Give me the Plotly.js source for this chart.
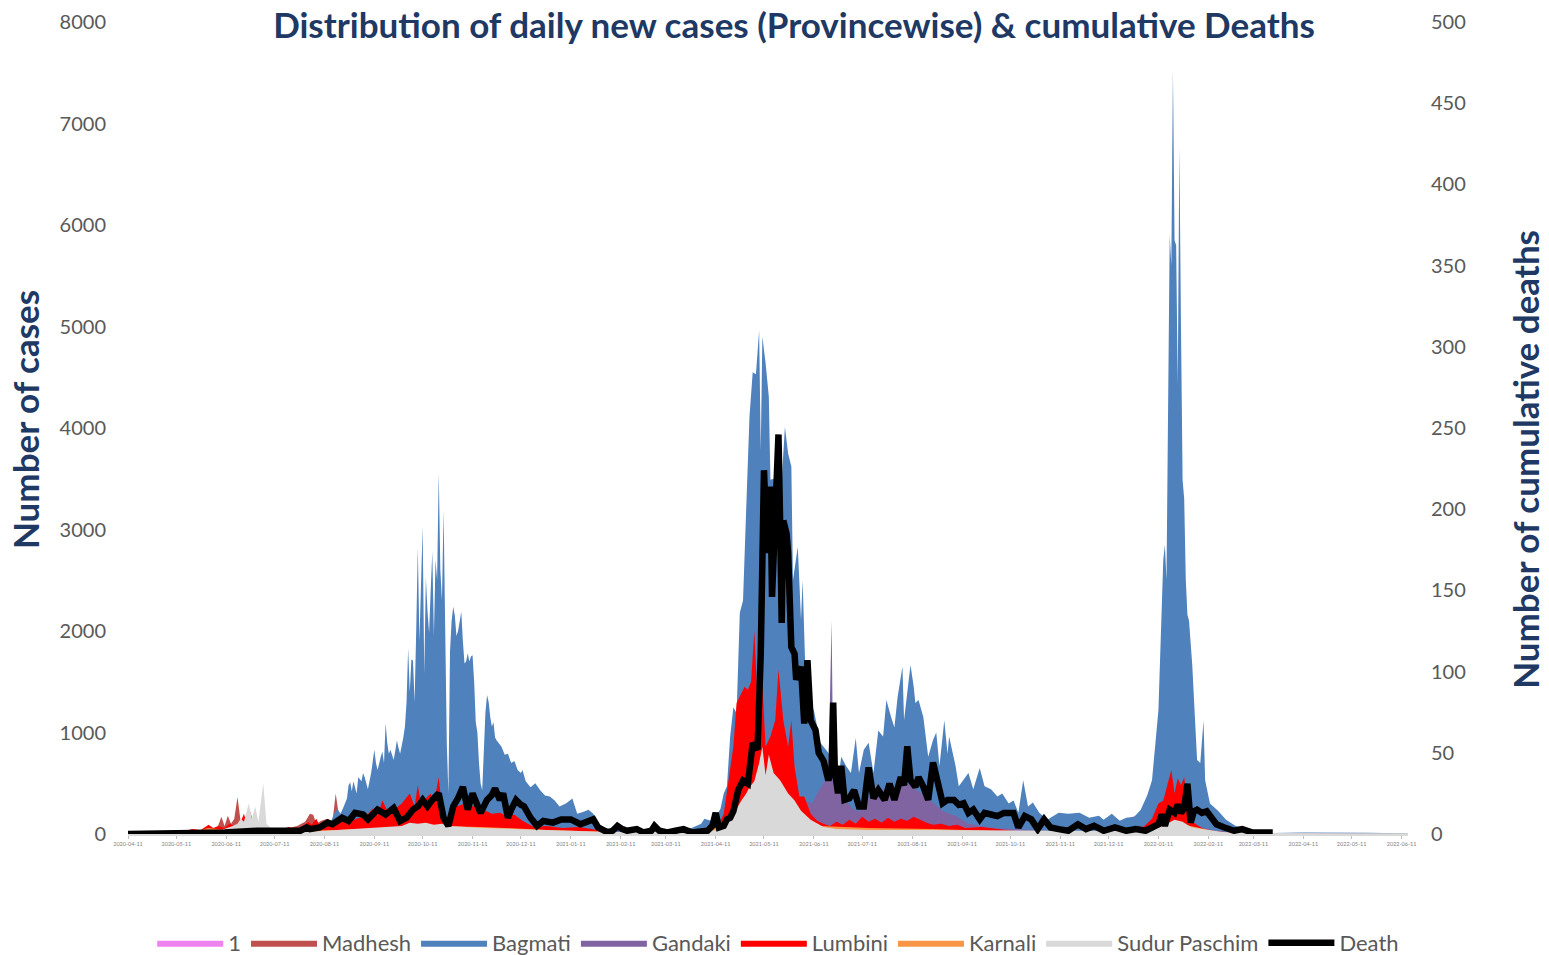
<!DOCTYPE html>
<html>
<head>
<meta charset="utf-8">
<script src="https://cdn.plot.ly/plotly-3.0.1.min.js"></script>
<style>
  html, body { margin: 0; padding: 0; background: #ffffff; }
  #chart { width: 1549px; height: 955px; }
</style>
</head>
<body>
<div id="chart"></div>
<script>
// ---- Data (day offsets from the start date) ----
const startDate = '2020-04-11';

const tickDates = ['2020-04-11','2020-05-11','2020-06-11','2020-07-11','2020-08-11','2020-09-11','2020-10-11','2020-11-11','2020-12-11',
  '2021-01-11','2021-02-11','2021-03-11','2021-04-11','2021-05-11','2021-06-11','2021-07-11','2021-08-11','2021-09-11',
  '2021-10-11','2021-11-11','2021-12-11','2022-01-11','2022-02-11','2022-03-11','2022-04-11','2022-05-11','2022-06-11'];

const seriesNames = ['1','Madhesh','Bagmati','Gandaki','Lumbini','Karnali','Sudur Paschim','Death'];

const p1Days = [0,40,100,150,200,250,300,340,365,372,395,420,460,520,600,645,655,665,690,796];
const p1Vals = [0,5,15,100,200,60,10,10,20,150,500,200,100,50,20,300,400,80,5,0];

const madheshDays = [0,30,35,40,45,50,55,58,60,62,64,66,68,70,72,75,80,85,90,95,100,105,110,113,115,117,120,124,127,129,131,135,140,150,160,170,180,190,200,210,220,230,240,260,280,300,340,365,375,385,395,405,415,425,440,470,500,540,600,640,650,660,670,690,720,796];
const madheshVals = [0,0,10,15,20,30,40,170,80,180,100,150,365,120,150,100,80,50,40,50,60,80,120,200,190,100,130,150,120,400,180,200,250,300,350,350,350,350,300,300,300,250,200,120,60,30,20,50,200,600,900,800,500,300,150,120,100,60,40,150,200,150,60,10,3,2];

const bagmatiDays = [0,20,40,60,75,90,100,110,116,120,123,126,128,130,132,134,136,137,138,139,140,142,143,145,146,147,149,151,153,154,155,157,158,159,160,161,162,163,165,166,167,168,169,171,172,173,174,175,176,177,178,179,180,181,182,183,184,185,186,187,188,189,190,191,192,193,194,195,196,197,198,199,200,201,202,203,204,205,206,207,208,209,210,211,212,213,214,215,216,217,218,219,220,221,222,223,224,225,226,227,228,229,231,232,234,236,238,240,242,244,245,247,250,253,256,259,262,265,268,272,276,279,283,286,289,292,296,300,310,320,330,340,350,356,358,362,365,368,370,372,374,376,378,380,382,384,386,388,390,392,393,394,396,398,399,401,403,405,408,410,412,413,416,418,419,421,423,426,430,435,438,441,443,446,449,452,454,457,460,463,466,469,471,474,476,478,481,482,484,486,488,489,491,494,497,500,502,504,507,509,510,512,514,516,519,522,525,529,532,536,540,543,547,550,553,556,559,562,566,571,578,584,591,597,603,606,611,616,620,625,629,633,636,640,643,644,645,646,647,648,649,650,651,652,653,654,655,656,657,658,659,661,663,664,666,668,669,672,677,682,688,695,700,710,730,750,770,790,796];
const bagmatiVals = [0,2,5,10,15,20,30,50,70,100,140,120,200,250,200,270,350,480,510,420,520,400,560,520,600,560,440,600,830,700,630,760,810,700,1090,900,790,830,730,820,920,850,790,950,1060,1300,1830,1400,1720,1710,1300,2000,2820,1900,2500,3030,1580,2530,2200,1980,2400,2780,1950,2700,2500,3560,2600,2300,3190,2000,900,400,1800,2100,2240,2150,1950,2000,2100,2190,1900,1680,1700,1780,1700,1750,1760,1500,1100,1000,700,500,430,900,1200,1370,1300,1150,1060,1100,950,920,880,860,780,790,700,720,630,600,630,520,460,500,430,380,370,330,270,300,350,200,220,240,200,100,60,50,40,50,45,55,60,100,150,130,170,250,400,470,960,1250,1190,2180,2300,3220,4110,4550,4530,4960,3780,4900,4640,4310,3490,3500,3300,3220,4010,3750,3620,2500,2830,2110,2500,1450,1290,1220,900,800,700,530,760,670,600,945,600,830,900,600,1020,960,1320,1150,1050,1350,1650,1120,1380,1665,1450,1290,1320,1150,760,925,1000,670,1120,790,960,830,670,470,530,600,440,650,470,440,370,400,300,330,210,530,270,310,210,140,210,200,210,160,180,140,200,130,160,170,240,380,530,1220,2700,2850,2500,4180,5900,5600,7530,5850,5800,4420,6770,5000,3490,3300,2500,2160,2100,1665,1000,730,700,1120,530,300,230,140,80,50,20,10,15,10,12,8,5];

const gandakiDays = [0,40,60,100,130,160,190,220,260,300,360,375,385,395,405,415,420,425,428,432,435,437,438,440,442,446,450,454,458,462,466,470,474,478,482,486,490,494,498,502,506,510,514,518,522,530,540,560,600,640,650,660,680,700,796];
const gandakiVals = [0,0,10,20,40,80,120,100,40,10,20,200,500,700,600,350,330,300,400,500,600,2100,600,660,470,330,250,220,300,400,460,430,470,460,520,480,430,390,330,280,230,200,180,140,100,80,60,40,20,100,250,100,10,2,0];

const lumbiniDays = [0,28,31,35,40,45,48,50,53,56,60,63,66,70,72,74,76,78,82,86,92,96,100,104,108,112,114,117,119,122,126,130,133,138,142,148,152,155,158,162,166,170,175,178,180,182,185,188,190,193,195,198,200,203,206,209,212,215,217,219,222,226,231,235,240,245,252,260,270,280,288,295,305,320,340,355,362,366,370,373,376,378,380,383,385,387,389,391,393,396,399,402,404,407,410,412,414,417,420,424,428,432,436,440,444,448,452,456,460,464,468,472,476,480,484,488,492,496,500,505,510,515,520,530,540,550,560,580,600,620,630,636,640,643,646,648,650,652,654,656,658,660,662,665,668,675,685,700,720,796];
const lumbiniVals = [0,0,20,30,50,40,70,90,60,80,60,100,80,120,200,90,220,100,60,40,30,50,70,40,60,120,90,150,80,60,100,120,160,130,150,180,250,180,330,200,250,300,400,270,480,300,350,400,300,560,250,150,200,270,280,300,260,280,200,250,230,200,210,180,190,130,70,80,60,70,50,30,20,15,15,30,50,60,200,530,860,1290,1350,1450,1420,1500,2000,1290,1780,860,960,1120,1620,1120,860,1120,660,370,370,200,130,100,80,120,90,140,100,170,120,150,110,160,120,150,130,170,140,110,90,100,80,90,60,70,50,30,25,20,20,25,60,150,300,330,500,630,400,550,480,560,300,200,110,80,50,30,15,5,2,1];

const karnaliDays = [0,30,35,45,50,55,60,70,80,100,130,160,190,220,260,300,360,370,380,390,400,410,420,430,460,500,540,600,640,650,660,680,700,796];
const karnaliVals = [0,0,20,40,60,50,40,50,30,30,40,60,80,70,40,20,20,120,200,350,400,300,150,80,60,50,30,20,60,120,80,10,2,0];

const sudurDays = [0,30,40,50,58,62,65,68,70,72,75,77,79,81,84,86,90,100,110,120,130,140,150,160,170,175,180,185,190,195,200,210,220,240,260,280,300,330,360,366,370,374,378,381,384,386,389,392,394,396,398,401,405,410,414,418,424,432,440,460,500,540,580,620,640,645,650,655,660,667,680,700,720,760,796];
const sudurVals = [0,0,10,20,40,60,80,100,150,120,300,150,270,120,500,100,40,30,20,30,40,50,60,70,80,110,100,110,90,100,80,70,60,50,40,30,20,20,25,40,100,140,250,330,400,460,520,700,860,580,780,600,530,400,330,230,140,70,50,40,40,35,30,30,60,100,140,120,70,50,20,10,8,8,8];

const deathDays = [0,30,40,60,80,100,107,111,113,119,124,127,133,137,141,146,149,152,155,160,165,169,173,177,180,183,186,189,193,196,199,202,205,208,211,214,217,219,223,226,228,231,233,236,238,241,244,246,250,254,258,264,269,275,281,285,289,292,295,298,301,304,307,310,316,320,325,327,330,335,340,345,350,355,360,363,365,367,370,372,374,376,379,382,385,388,391,393,395,397,399,400,402,404,405,406,407,409,410,412,414,415,418,420,422,424,427,429,432,435,437,438,439,441,443,445,448,451,454,457,460,463,466,470,473,476,480,482,484,486,489,491,494,497,500,503,506,509,513,516,519,522,525,529,532,536,540,544,550,553,557,561,565,569,573,578,584,590,595,600,606,613,620,626,632,636,640,642,644,647,650,652,654,656,658,660,662,664,667,670,673,676,681,687,692,698,711];
const deathVals = [0,0,1,1,2,2,2,4,3,4,7,6,10,8,13,12,9,12,15,12,16,8,10,15,17,21,17,21,25,10,5,17,22,29,15,25,18,13,21,24,28,21,25,10,15,21,18,17,10,5,8,7,9,9,6,7,9,4,2,1,2,5,3,2,3,1,2,5,2,1,2,3,1,2,2,5,13,4,5,9,10,14,27,33,31,56,52,111,224,173,214,146,193,246,193,130,193,185,173,115,111,95,103,68,107,70,64,50,45,33,40,81,39,25,42,21,22,27,17,17,41,22,27,21,31,21,35,30,54,33,29,35,29,21,44,29,19,21,21,18,19,13,15,9,13,12,11,13,13,4,11,9,3,9,4,3,2,6,3,5,2,4,2,3,2,4,6,12,5,15,13,18,13,16,31,7,14,15,13,14,10,6,4,2,3,1,1];

// ---- Helpers ----
const baseMs = Date.UTC(2020, 3, 11);
function toDates(days) {
  return days.map(d => new Date(baseMs + d * 86400000).toISOString().slice(0, 10));
}

const colors = ['#EE82EE', '#C0504D', '#4F81BD', '#8064A2', '#FF0000', '#F79646', '#D9D9D9', '#000000'];
const areaSeries = [
  [p1Days, p1Vals], [madheshDays, madheshVals], [bagmatiDays, bagmatiVals], [gandakiDays, gandakiVals],
  [lumbiniDays, lumbiniVals], [karnaliDays, karnaliVals], [sudurDays, sudurVals]
];

const traces = areaSeries.map((s, i) => ({
  type: 'scatter',
  mode: 'lines',
  name: seriesNames[i],
  x: toDates(s[0]),
  y: s[1],
  fill: 'tozeroy',
  fillcolor: colors[i],
  line: { width: 0, color: colors[i] },
  hoverinfo: 'skip',
  yaxis: 'y'
}));

traces.push({
  type: 'scatter',
  mode: 'lines',
  name: seriesNames[7],
  x: toDates(deathDays),
  y: deathVals,
  line: { width: 6.5, color: colors[7] },
  yaxis: 'y2',
  hoverinfo: 'skip'
});

const FONT = 'Lato, "Open Sans", sans-serif';
const NAVY = '#203864';

const layout = {
  width: 1549,
  height: 955,
  paper_bgcolor: '#ffffff',
  plot_bgcolor: '#ffffff',
  margin: { l: 128, r: 141, t: 22, b: 121, autoexpand: false },
  font: { family: FONT, color: '#595959' },
  title: {
    text: 'Distribution of daily new cases (Provincewise) & cumulative Deaths',
    font: { family: FONT, size: 35, color: NAVY, weight: 'bold' },
    xref: 'container', x: 0.5126, xanchor: 'center',
    yref: 'container', y: 0.973, yanchor: 'middle'
  },
  xaxis: {
    type: 'date',
    range: ['2020-04-11', '2022-06-15'],
    tickvals: tickDates,
    tickformat: '%Y-%m-%d',
    tickfont: { size: 5.5, color: '#7f7f7f', family: FONT },
    ticks: 'outside', ticklen: 3, tickcolor: '#bfbfbf', tickwidth: 1,
    showline: true, linecolor: '#D9D9D9', linewidth: 2,
    showgrid: false, zeroline: false,
    fixedrange: true
  },
  yaxis: {
    range: [0, 8000],
    tick0: 0, dtick: 1000,
    tickfont: { size: 20, color: '#595959', family: FONT },
    ticklabelstandoff: 21,
    showgrid: false, zeroline: false, showline: false
  },
  yaxis2: {
    overlaying: 'y', side: 'right',
    range: [0, 500],
    tick0: 0, dtick: 50,
    tickfont: { size: 20, color: '#595959', family: FONT },
    ticklabelstandoff: 22,
    showgrid: false, zeroline: false, showline: false
  },
  annotations: [
    {
      text: 'Number of cases', textangle: -90,
      xref: 'paper', yref: 'paper', x: -0.0805, y: 0.511,
      xanchor: 'center', yanchor: 'middle', showarrow: false,
      font: { size: 35, color: NAVY, family: FONT, weight: 'bold' }
    },
    {
      text: 'Number of cumulative deaths', textangle: -90,
      xref: 'paper', yref: 'paper', x: 1.0914, y: 0.462,
      xanchor: 'center', yanchor: 'middle', showarrow: false,
      font: { size: 35, color: NAVY, family: FONT, weight: 'bold' }
    }
  ],
  showlegend: true,
  legend: {
    orientation: 'h',
    xref: 'paper', x: 0.508, xanchor: 'center',
    yref: 'container', y: 0.0126, yanchor: 'middle',
    font: { size: 22, color: '#595959', family: FONT },
    itemwidth: 66,
    traceorder: 'normal'
  }
};

Plotly.newPlot('chart', traces, layout, { displayModeBar: false, staticPlot: true });
</script>
</body>
</html>
